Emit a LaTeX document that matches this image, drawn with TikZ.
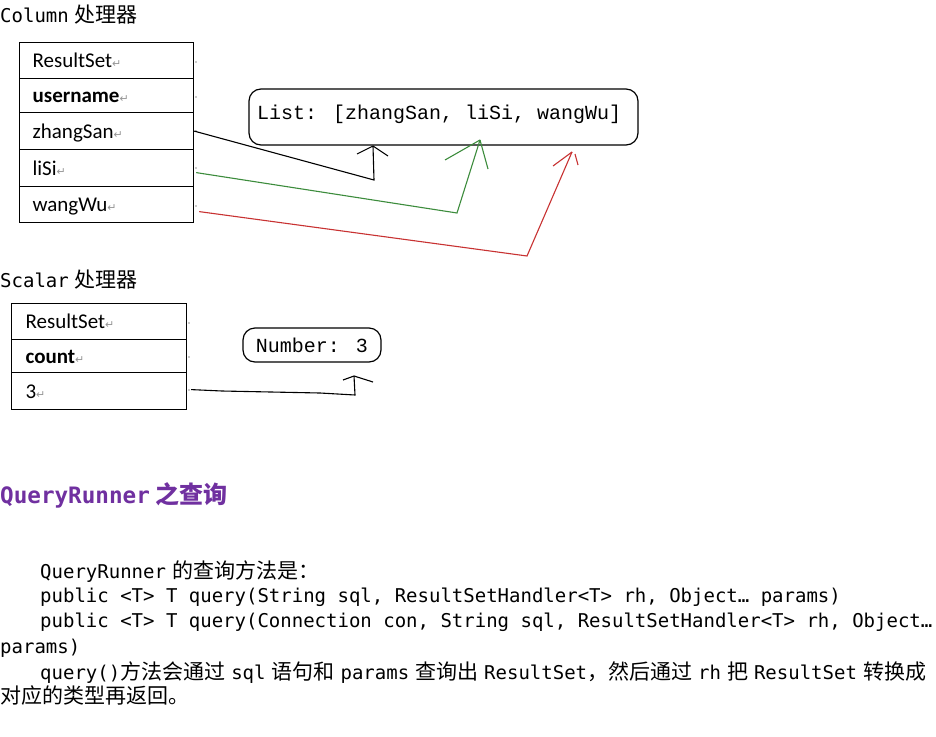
\documentclass[tikz,border=0pt]{standalone}
\usepackage{fontspec}
\setmainfont{Carlito}
\newfontfamily\cjkf{Noto Sans CJK SC}
\newfontfamily\monof{DejaVu Sans Mono}
\newfontfamily\listf{Liberation Mono}
\newfontfamily\symf{DejaVu Sans}
\definecolor{retgray}{RGB}{150,150,150}
\definecolor{hpurple}{RGB}{112,48,160}
\definecolor{cgreen}{RGB}{60,140,60}
\definecolor{cred}{RGB}{200,50,50}
\newcommand\ret{{\symf\fontsize{11}{11}\selectfont\textcolor{retgray}{↵}}}
\newcommand\gap{\hspace{6pt}}
\newcommand\ms{\monof\fontsize{19}{23}\selectfont}
\newcommand\cs{\cjkf\fontsize{21}{23}\selectfont}
\begin{document}
\begin{tikzpicture}[x=1pt,y=-1pt,
  cellA/.style={draw, line width=1.2pt, anchor=north west, inner xsep=13pt, inner ysep=0pt,
    text width=148pt, align=left, minimum width=174pt, text height=14pt, text depth=0pt,
    font=\fontsize{21}{23}\selectfont},
  cellB/.style={cellA, inner xsep=14pt, text width=147pt, minimum width=175pt},
  rbox/.style={draw, line width=1.2pt, rounded corners=12pt},
  textline/.style={anchor=base west, inner sep=0pt},
  conn/.style={line width=1.1pt},
  rowmark/.style={fill=retgray}
]
\fill[white] (0,0) rectangle (936,736);
\useasboundingbox (0,0) rectangle (936,736);

% Column heading
\node[textline] (h1) at (0,22) {\ms Column\gap{\cs 处理器}};

% Column table
\node[cellA, minimum height=36pt] (r1) at (19,42) {ResultSet\ret};
\node[cellA, minimum height=34pt] (r2) at (19,78) {\textbf{username}\ret};
\node[cellA, minimum height=37pt] (r3) at (19,112) {zhangSan\ret};
\node[cellA, minimum height=37pt] (r4) at (19,149) {liSi\ret};
\node[cellA, minimum height=36pt] (r5) at (19,186) {wangWu\ret};
\foreach \yy in {62,97,131,168,206} \fill[rowmark] (196,\yy) circle (0.8pt);

% List box
\node[rbox, minimum width=389pt, minimum height=56pt] (list) at (443.5,117) {};
\node[textline] (listtxt) at (257,119) {\listf\fontsize{20}{22}\selectfont List: [zhangSan, liSi, wangWu]};

% connectors column
\coordinate (kb) at (374,180);
\coordinate (kt) at (373,146);
\draw[conn] (r3.east) -- (kb) -- (kt);
\draw[conn] (kt) -- (357,154);
\draw[conn] (kt) -- (388,156);

\coordinate (gb) at (457,213);
\coordinate (gt) at (480,140);
\draw[conn, cgreen] ([xshift=2pt,yshift=-4.5pt]r4.east) -- (gb) -- (gt);
\draw[conn, cgreen] (gt) -- (445,160);
\draw[conn, cgreen] (gt) -- (488,169);

\coordinate (rb) at (527,256);
\coordinate (rt) at (572,152);
\draw[conn, cred] ([xshift=5pt,yshift=-7pt]r5.east) -- (rb) -- (rt);
\draw[conn, cred] (rt) -- (553,166);
\draw[conn, cred] (575,154) -- (578,165);

% Scalar heading
\node[textline] (h2) at (0,287) {\ms Scalar\gap{\cs 处理器}};

% Scalar table
\node[cellB, minimum height=36pt] (s1) at (11,303) {ResultSet\ret};
\node[cellB, minimum height=33pt] (s2) at (11,339) {\textbf{count}\ret};
\node[cellB, minimum height=37pt] (s3) at (11,372) {3\ret};
\foreach \yy in {323,357,390} \fill[rowmark] (189,\yy) circle (0.8pt);

% Number box
\node[rbox, minimum width=138pt, minimum height=34pt, inner sep=0pt,
  font=\listf\fontsize{20}{22}\selectfont] (num) at (312,345) {Number: 3};

\coordinate (n1) at (222,391);
\coordinate (n2) at (320,393);
\coordinate (nb) at (355,395);
\coordinate (nt) at (354,376);
\draw[conn] ([xshift=4pt,yshift=1.5pt]s3.east) -- (n1) -- (n2) -- (nb) -- (nt);
\draw[conn] (nt) -- (343,380);
\draw[conn] (nt) -- (373,382);

% QueryRunner heading
\node[textline, text=hpurple] (h3) at (0,503)
  {\monof\bfseries\fontsize{22.6}{26}\selectfont QueryRunner\gap{\cjkf\bfseries\fontsize{24}{26}\selectfont 之查询}};

% paragraph
\node[textline] (p1) at (40,578) {\ms QueryRunner\gap{\cs 的查询方法是：}};
\node[textline] (p2) at (40,602) {\ms public <T> T query(String sql, ResultSetHandler<T> rh, Object… params)};
\node[textline] (p3) at (40,627) {\ms public <T> T query(Connection con, String sql, ResultSetHandler<T> rh, Object…};
\node[textline] (p4) at (0,653) {\ms params)};
\node[textline] (p5) at (40,679) {\ms query(){\cs 方法会通过}\gap sql\gap{\cs 语句和}\gap params\gap{\cs 查询出}\gap ResultSet{\cs ，然后通过}\gap rh\gap{\cs 把}\gap ResultSet\gap{\cs 转换成}};
\node[textline] (p6) at (0,703) {\cs 对应的类型再返回。};
\end{tikzpicture}
\end{document}
